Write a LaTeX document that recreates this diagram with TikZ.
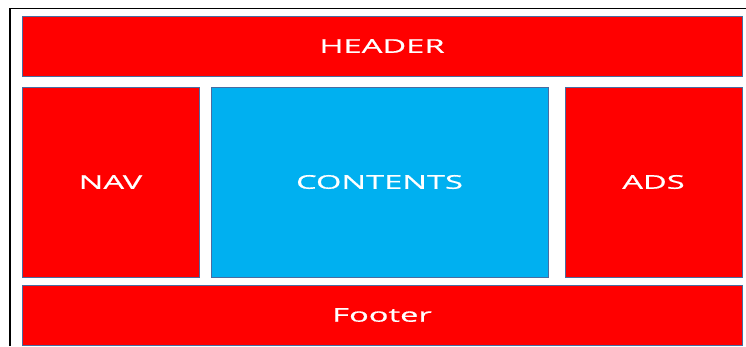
\documentclass[tikz,border=0pt]{standalone}
\usepackage{fontspec}
\newfontfamily\boxfont[FakeStretch=1.72,FakeBold=0.6]{Open Sans}
\definecolor{boxred}{HTML}{FF0000}
\definecolor{boxblue}{HTML}{00B0F0}
\definecolor{edgeblue}{HTML}{4A6CA0}
\begin{document}
\begin{tikzpicture}[x=1pt,y=-1pt,
  blk/.style={draw=edgeblue,line width=1pt,text=white,inner sep=0pt,
    font=\boxfont\fontsize{19}{21}\selectfont}]
\useasboundingbox (0,0) rectangle (746,346);
\fill[white] (0,0) rectangle (746,346);
\draw[line width=1.3pt,black] (10,346) -- (10,8.5) -- (746,8.5);
\node[blk,fill=boxred,minimum width=720pt,minimum height=60pt] (header) at (382,46) {HEADER};
\node[blk,fill=boxred,minimum width=177pt,minimum height=190pt] (nav) at (110.5,182) {NAV};
\node[blk,fill=boxblue,minimum width=337pt,minimum height=190pt] (contents) at (379.5,182) {CONTENTS};
\node[blk,fill=boxred,minimum width=177pt,minimum height=190pt] (ads) at (653.5,182) {ADS};
\node[blk,fill=boxred,minimum width=720pt,minimum height=60pt] (footer) at (382,315) {Footer};
\end{tikzpicture}
\end{document}
